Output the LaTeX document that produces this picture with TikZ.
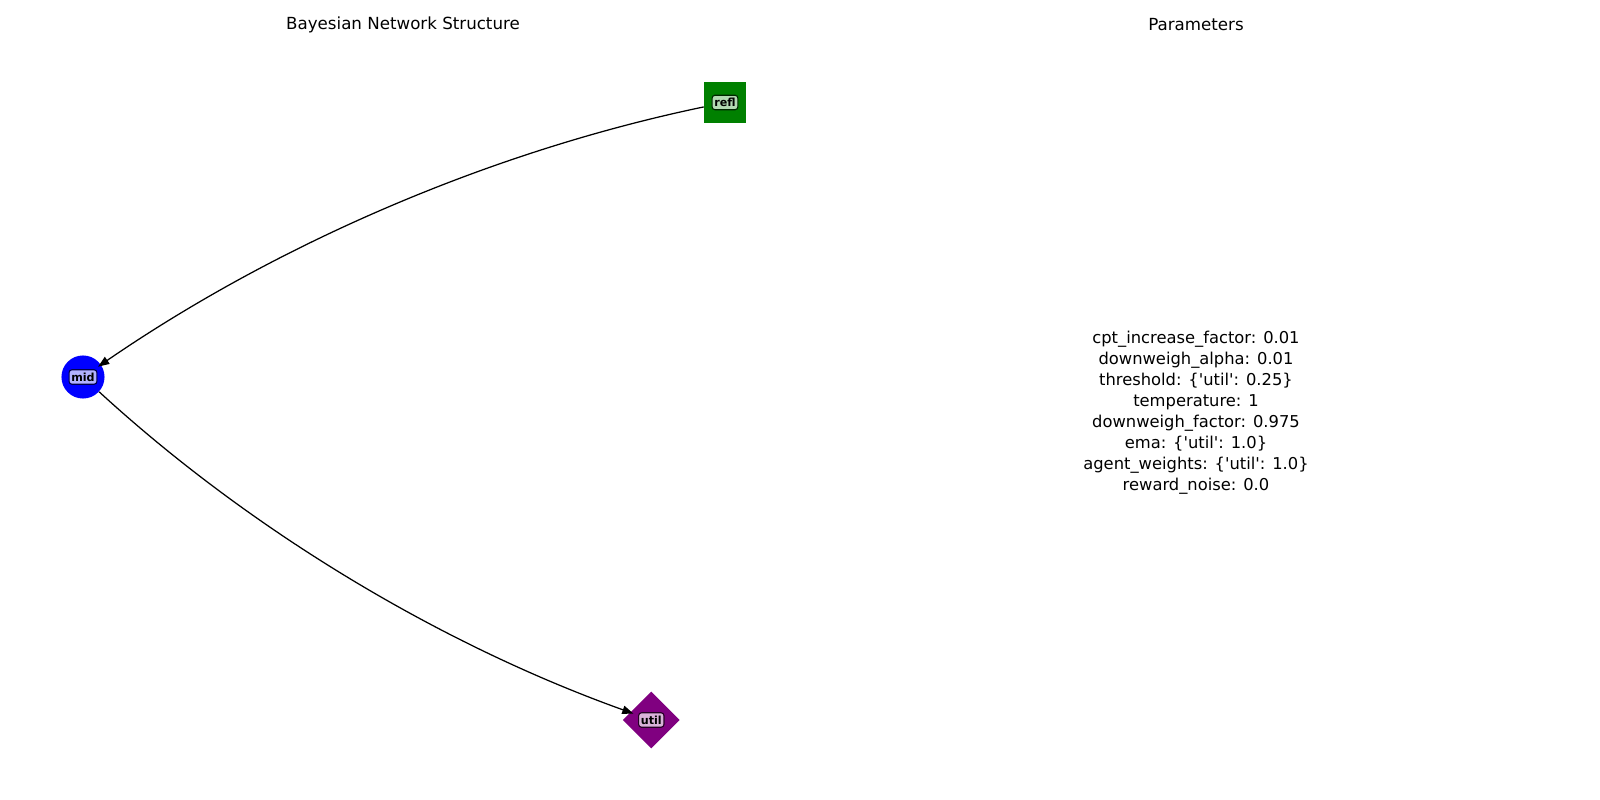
\documentclass[tikz,border=0pt]{standalone}
\usepackage{fontspec}
\setmainfont{DejaVu Sans}[Ligatures=TeXOff]
\usetikzlibrary{shapes.geometric, arrows.meta}

\definecolor{reflgreen}{RGB}{0,128,0}
\definecolor{midblue}{RGB}{0,0,255}
\definecolor{utilpurple}{RGB}{128,0,128}

\tikzset{
	netnode/.style={inner sep=0pt, draw=none},
	lbl/.style={rounded corners=2bp, inner xsep=1.6bp, inner ysep=2.2bp, text height=6bp, text depth=0bp, line width=0.8bp, font=\fontsize{8bp}{9bp}\selectfont\bfseries},
	edge/.style={line width=0.9bp, shorten >=-2.5bp, -{Triangle[length=8bp, width=6bp]}},
	ttl/.style={font=\fontsize{12bp}{14bp}\selectfont}
}

\begin{document}
\begin{tikzpicture}[x=0.01in, y=-0.01in]
		\useasboundingbox (0,0) rectangle (1600,800);
		% titles
		\node[ttl] (left-title) at (403,24.5) {Bayesian Network Structure};
		\node[ttl] (right-title) at (1196,24.5) {Parameters};
		% nodes
		\node[netnode, rectangle, fill=reflgreen, minimum size=30.2bp] (refl) at (725,102.5) {};
		\node[netnode, circle, fill=midblue, minimum size=31bp] (mid) at (83,377) {};
		\node[netnode, diamond, fill=utilpurple, minimum width=41bp, minimum height=41bp] (util) at (651.3,720) {};
		\node[lbl, fill=reflgreen!30!white, draw=reflgreen!30!black] (refl-lbl) at (refl) {refl};
		\node[lbl, fill=midblue!30!white, draw=midblue!30!black] (mid-lbl) at (mid) {mid};
		\node[lbl, fill=utilpurple!30!white, draw=utilpurple!30!black] (util-lbl) at (util) {util};
		% edges
		\draw[edge] (refl) .. controls (492.2,151.0) and (278.3,242.9) .. (mid);
		\draw[edge] (mid) .. controls (249.3,529.6) and (438.7,643.7) .. (util);
		% parameters
		\node[align=center, font=\fontsize{11.75bp}{15.1bp}\selectfont] (params) at (1196,412.5) {cpt\_increase\_factor: 0.01\\
			downweigh\_alpha: 0.01\\
			threshold: \{'util': 0.25\}\\
			temperature: 1\\
			downweigh\_factor: 0.975\\
			ema: \{'util': 1.0\}\\
			agent\_weights: \{'util': 1.0\}\\
			reward\_noise: 0.0};
	\end{tikzpicture}
\end{document}
